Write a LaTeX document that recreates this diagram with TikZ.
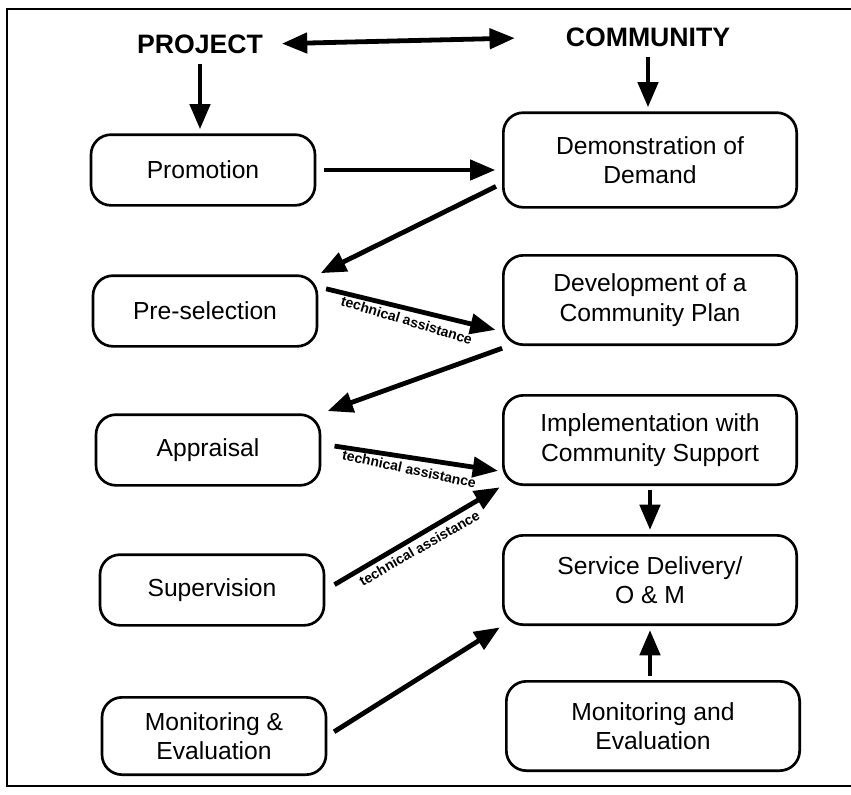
\documentclass[tikz,border=0pt]{standalone}
\usepackage{fontspec}
\setmainfont{Liberation Sans}
\usetikzlibrary{arrows.meta}

\tikzset{
  stepbox/.style={draw, line width=2pt, rounded corners=15pt, align=center,
    font=\fontsize{18.5}{22}\selectfont, inner sep=2pt},
  leftbox/.style={stepbox, minimum width=168pt, minimum height=53pt},
  rightbox/.style={stepbox, minimum width=220pt, minimum height=67pt},
  head/.style={font=\bfseries\fontsize{20}{24}\selectfont, inner sep=2pt},
  heavy/.style={line width=3.6pt, -{Triangle[length=19pt,width=15pt]}},
  assist/.style={font=\bfseries\fontsize{10.5}{12}\selectfont, anchor=north, inner sep=3pt}
}

\begin{document}
\begin{tikzpicture}[x=0.75pt,y=0.75pt,yscale=-1,xscale=1]
\useasboundingbox (0,0) rectangle (851,794);

%Frame
\draw [line width=2pt] (851,9) -- (7,9) -- (7,786) -- (851,786) ;

% Text Node
\node [head] (project) at (200,44) {PROJECT};
% Text Node
\node [head] (community) at (648,37) {COMMUNITY};

%Rounded Rect
\node [leftbox] (promo) at (203,170) {Promotion};
\node [leftbox] (presel) at (205,311) {Pre-selection};
\node [leftbox] (apprais) at (208,450) {Appraisal};
\node [leftbox] (superv) at (212,590) {Supervision};
\node [leftbox, minimum height=58pt] (mandeL) at (214,736) {Monitoring \&\\Evaluation};

%Rounded Rect
\node [rightbox, minimum height=71pt] (demo) at (650,160) {Demonstration of\\Demand};
\node [rightbox] (devplan) at (650,300) {Development of a\\Community Plan};
\node [rightbox] (impl) at (650,440) {Implementation with\\Community Support};
\node [rightbox] (service) at (650,580) {Service Delivery/\\O \& M};
\node [rightbox] (mandeR) at (653,726) {Monitoring and\\Evaluation};

%Straight Lines
\draw [heavy, {Triangle[length=19pt,width=15pt]}-{Triangle[length=19pt,width=15pt]}, shorten <=12pt, shorten >=36pt] (project.east) -- (community.west) ;
\draw [heavy, shorten <=6pt, shorten >=3pt] (project.south) -- (project.south |- promo.north) ;
\draw [heavy, shorten <=6pt, shorten >=3pt] (community.south) -- (community.south |- demo.north) ;
\draw [heavy, shorten <=6pt, shorten >=5pt] (promo.east) -- (promo.east -| demo.west) ;
\draw [heavy, shorten <=5pt, shorten >=2pt] (demo.189) -- (presel.north east) ;
\draw [heavy, shorten <=6pt, shorten >=5pt] (presel.12) -- node [assist, rotate=-17] {technical assistance} (devplan.192) ;
\draw [heavy, shorten <=5pt, shorten >=5pt] (devplan.198) -- (apprais.north east) ;
\draw [heavy, shorten <=10pt, shorten >=3pt] (apprais.3) -- node [assist, rotate=-12] {technical assistance} (impl.192) ;
\draw [heavy, shorten <=8pt, shorten >=2pt] (superv.east) -- node [assist, rotate=30] {technical assistance} (impl.south west) ;
\draw [heavy, shorten <=6pt, shorten >=2pt] (mandeL.east) -- (service.south west) ;
\draw [heavy, shorten <=3pt, shorten >=3pt] (impl.south) -- (service.north) ;
\draw [heavy, shorten <=3pt, shorten >=3pt] (mandeR.north -| service.south) -- (service.south) ;

\end{tikzpicture}
\end{document}
